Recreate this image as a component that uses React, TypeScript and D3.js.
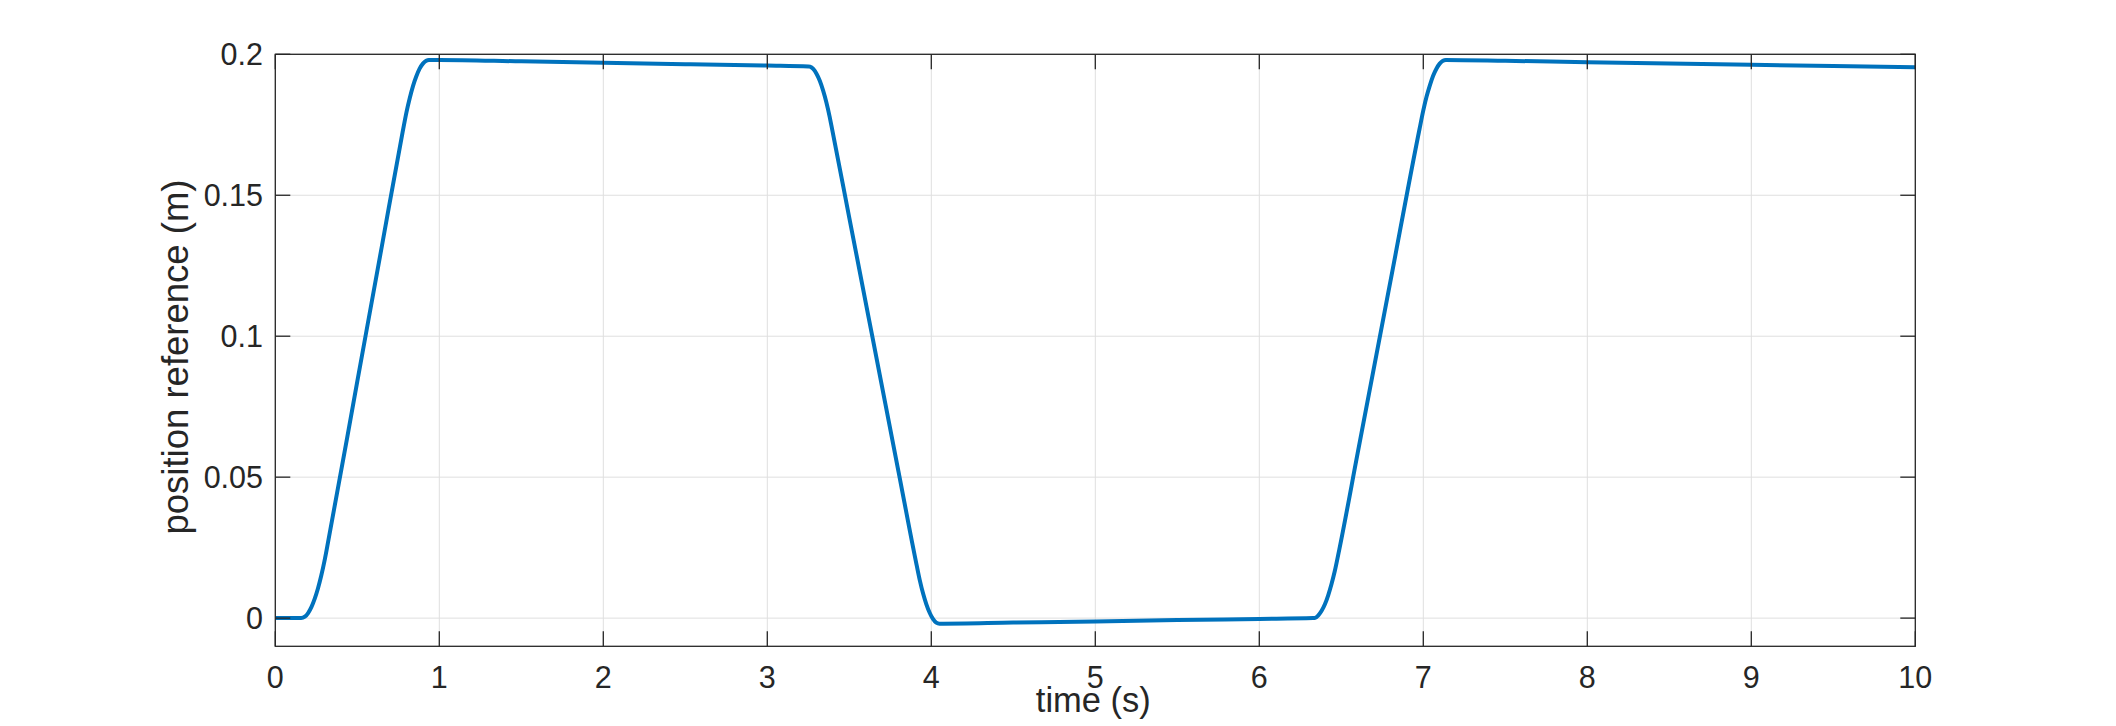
import React from "react";
import * as d3 from "d3";

// time (s)
const timeS: number[] = [
  0, 0.1575, 0.18, 0.2, 0.22, 0.24, 0.26, 0.28, 0.3, 0.3175, 0.5, 0.65, 0.776, 0.8, 0.82, 0.84, 0.86, 0.88, 0.9, 0.92,
  0.936, 1.0, 1.5, 2.0, 2.5, 3.0, 3.251, 3.26, 3.28, 3.3, 3.32, 3.34, 3.36, 3.38, 3.391, 3.5, 3.64, 3.8, 3.91, 3.93,
  3.95, 3.97, 3.99, 4.01, 4.03, 4.05, 4.5, 5.0, 5.5, 6.0, 6.328, 6.34, 6.36, 6.38, 6.4, 6.42, 6.44, 6.46, 6.488, 6.6,
  6.8, 6.977, 7.0, 7.02, 7.04, 7.06, 7.08, 7.1, 7.12, 7.137, 7.5, 8.0, 9.0, 10.0,
];
// position reference (m)
const positionM: number[] = [
  0, 0, 0.0005, 0.0018, 0.0039, 0.0068, 0.0105, 0.015, 0.0203, 0.0256, 0.084, 0.132, 0.1723, 0.1795, 0.1845, 0.1888,
  0.1922, 0.1949, 0.1967, 0.1977, 0.198, 0.198, 0.1975, 0.197, 0.1965, 0.196, 0.1957, 0.1956, 0.1948, 0.1931, 0.1906,
  0.1872, 0.183, 0.1779, 0.1747, 0.142, 0.1, 0.052, 0.019, 0.0134, 0.0087, 0.0049, 0.0019, -0.0003, -0.0016, -0.002,
  -0.0016, -0.0012, -0.0007, -0.0003, 0.0, 0.0001, 0.001, 0.0026, 0.0049, 0.0081, 0.012, 0.0166, 0.0244, 0.0586,
  0.1196, 0.1735, 0.1801, 0.185, 0.189, 0.1924, 0.1949, 0.1967, 0.1977, 0.198, 0.1977, 0.1972, 0.1963, 0.1954,
];
const xTicks: number[] = [0, 1, 2, 3, 4, 5, 6, 7, 8, 9, 10];
const yTicks: number[] = [0, 0.05, 0.1, 0.15, 0.2];
const yTickLabels: string[] = ["0", "0.05", "0.1", "0.15", "0.2"];
const xLabel = "time (s)";
const yLabel = "position reference (m)";

const W = 2116;
const H = 726;
const left = 275.3;
const right = 1915.3;
const top = 54.3;
const bottom = 646.3;
const font = "'Liberation Sans', Arial, Helvetica, sans-serif";
const axisColor = "#262626";
const gridColor = "#dfdfdf";
const tickLen = 15;

export default function App() {
  const x = d3.scaleLinear().domain([0, 10]).range([left, right]);
  const y = d3.scaleLinear().domain([-0.01, 0.2]).range([bottom, top]);
  const pts: [number, number][] = timeS.map((t, i) => [t, positionM[i]]);
  const line = d3
    .line<[number, number]>()
    .x((d) => x(d[0]))
    .y((d) => y(d[1]))
    .curve(d3.curveMonotoneX);
  const path = line(pts) || "";

  return (
    <svg
      width={W}
      height={H}
      viewBox={`0 0 ${W} ${H}`}
      style={{ position: "absolute", left: 0, top: 0, display: "block", background: "#fff" }}
    >
      <rect x={0} y={0} width={W} height={H} fill="#ffffff" />
      {xTicks.map((t) => (
        <line key={"gx" + t} x1={x(t)} x2={x(t)} y1={top} y2={bottom} stroke={gridColor} strokeWidth={1} />
      ))}
      {yTicks.map((t) => (
        <line key={"gy" + t} x1={left} x2={right} y1={y(t)} y2={y(t)} stroke={gridColor} strokeWidth={1} />
      ))}
      <clipPath id="plotclip">
        <rect x={left} y={top} width={right - left} height={bottom - top} />
      </clipPath>
      <path d={path} fill="none" stroke="#0072BD" strokeWidth={4} strokeLinejoin="round" clipPath="url(#plotclip)" />
      {xTicks.map((t) => (
        <g key={"tx" + t}>
          <line x1={x(t)} x2={x(t)} y1={bottom} y2={bottom - tickLen} stroke={axisColor} strokeWidth={1.3} />
          <line x1={x(t)} x2={x(t)} y1={top} y2={top + tickLen} stroke={axisColor} strokeWidth={1.3} />
          <text x={x(t)} y={688} textAnchor="middle" fontFamily={font} fontSize={30.5} fill={axisColor}>
            {String(t)}
          </text>
        </g>
      ))}
      {yTicks.map((t, i) => (
        <g key={"ty" + t}>
          <line x1={left} x2={left + tickLen} y1={y(t)} y2={y(t)} stroke={axisColor} strokeWidth={1.3} />
          <line x1={right} x2={right - tickLen} y1={y(t)} y2={y(t)} stroke={axisColor} strokeWidth={1.3} />
          <text x={263} y={y(t) + 11} textAnchor="end" fontFamily={font} fontSize={30.5} fill={axisColor}>
            {yTickLabels[i]}
          </text>
        </g>
      ))}
      <rect x={left} y={top} width={right - left} height={bottom - top} fill="none" stroke={axisColor} strokeWidth={1.3} />
      <text x={(left + right) / 2 - 2} y={712} textAnchor="middle" fontFamily={font} fontSize={34.5} fill={axisColor}>
        {xLabel}
      </text>
      <text
        transform={`translate(188, 357) rotate(-90)`}
        textAnchor="middle"
        fontFamily={font}
        fontSize={36.5}
        fill={axisColor}
      >
        {yLabel}
      </text>
    </svg>
  );
}
